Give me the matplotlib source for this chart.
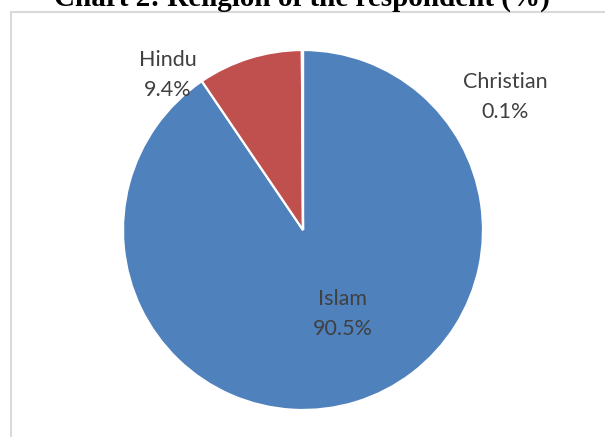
import matplotlib.pyplot as plt
from matplotlib.patches import Rectangle

# Religion of the respondents, percent
religions = ['Islam', 'Hindu', 'Christian']
shares = [90.5, 9.4, 0.1]
colors = ['#4F81BD', '#C0504D', '#9BBB59']

W, H = 605, 437
fig = plt.figure(figsize=(W / 100, H / 100), dpi=100)
ax = fig.add_axes([0, 0, 1, 1])

# chart frame, runs off the right and bottom edges
ax.add_patch(Rectangle((10.5, -10), 700, H - 12 + 10, fill=False,
                       edgecolor='#d9d9d9', linewidth=1.5, clip_on=False))

ax.pie(shares, colors=colors, startangle=90, counterclock=False,
       center=(303, H - 230), radius=180, frame=True,
       wedgeprops=dict(edgecolor='white', linewidth=1.6))
ax.set_xlim(0, W)
ax.set_ylim(0, H)
ax.set_aspect('equal')
ax.axis('off')

# label anchors: (x centre, baseline of the name line) in pixels from top-left
label_pos = {'Islam': (343, 305), 'Hindu': (168, 66), 'Christian': (505, 88)}
gap = 30
for name, val in zip(religions, shares):
    x, y = label_pos[name]
    ax.text(x, H - y, name, ha='center', va='baseline', fontsize=15.5,
            family='Lato', color='#404040')
    ax.text(x, H - y - gap, f'{val:.1f}%', ha='center', va='baseline',
            fontsize=15.5, family='Lato', color='#404040')

fig.text(302 / W, (H - 6) / H, 'Chart 2: Religion of the respondent (%)',
         ha='center', va='baseline', fontsize=21, fontweight='bold',
         family='Liberation Serif', color='black')

fig.savefig('out.png', dpi=100)
